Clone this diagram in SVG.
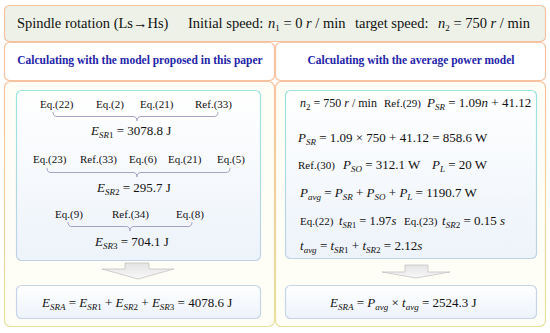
<svg xmlns="http://www.w3.org/2000/svg" width="550" height="333" viewBox="0 0 550 333" font-family="Liberation Serif, DejaVu Serif, serif">
<style>
.t{font-family:'Liberation Serif','DejaVu Serif',serif;fill:#111}
.ti{font-size:14.5px}
.eq{font-size:13px}
.lb{font-size:11px}
.i{font-style:italic}
.s{font-size:9px}
.hd{font-family:'Liberation Serif','DejaVu Serif',serif;font-weight:bold;font-size:11.5px;fill:#2424a8;text-anchor:middle}
.brace{fill:none;stroke:#aaa2c4;stroke-width:1}
.arrow{fill:url(#ga);stroke:#c4c4c4;stroke-width:0.8}
</style>
<defs>
<linearGradient id="gp" x1="0" y1="0" x2="0" y2="1">
<stop offset="0" stop-color="#f8c2a0"/>
<stop offset="1" stop-color="#e6e29c"/>
</linearGradient>
<linearGradient id="gi" x1="0" y1="0" x2="0" y2="1">
<stop offset="0" stop-color="#98e4dc"/>
<stop offset="1" stop-color="#c2d2e6"/>
</linearGradient>
<linearGradient id="gf" x1="0" y1="0" x2="0" y2="1">
<stop offset="0" stop-color="#ffffff"/>
<stop offset="1" stop-color="#edf3fa"/>
</linearGradient>
<linearGradient id="ga" x1="0" y1="0" x2="0" y2="1">
<stop offset="0" stop-color="#e4e4e4"/>
<stop offset="1" stop-color="#f8f8f8"/>
</linearGradient>
</defs>
<rect width="550" height="333" fill="#ffffff"/>

<g id="title">
<rect x="4.5" y="5.5" width="541" height="36" rx="5" fill="#eef1e7" stroke="#f6c3a2" stroke-width="1.2"/>
<text class="t ti" x="17" y="28">Spindle rotation (Ls→Hs)</text>
<text class="t ti" x="188" y="28">Initial speed:<tspan x="268" class="i">n</tspan><tspan class="s" dy="3">1</tspan><tspan dy="-3"> = 0 </tspan><tspan class="i">r</tspan><tspan> / min</tspan></text>
<text class="t ti" x="355" y="28">target speed:<tspan x="438" class="i">n</tspan><tspan class="s" dy="3">2</tspan><tspan dy="-3"> = 750 </tspan><tspan class="i">r</tspan><tspan> / min</tspan></text>
</g>

<g id="header-left">
<rect x="4.5" y="42.5" width="270" height="38" rx="5" fill="#ffffff" stroke="#f6c3a2" stroke-width="1.2"/>
<text class="hd" x="140" y="64">Calculating with the model proposed in this paper</text>
</g>
<g id="header-right">
<rect x="275.5" y="42.5" width="270" height="38" rx="5" fill="#ffffff" stroke="#f6c3a2" stroke-width="1.2"/>
<text class="hd" x="411" y="64">Calculating with the average power model</text>
</g>

<g id="panel-left">
<rect x="4.5" y="81.5" width="270" height="245" rx="6" fill="#fffef6" stroke="url(#gp)" stroke-width="1.2"/>
</g>
<g id="panel-right">
<rect x="275.5" y="81.5" width="270" height="245" rx="6" fill="#fffef6" stroke="url(#gp)" stroke-width="1.2"/>
</g>

<g id="model-steps">
<rect x="16.5" y="90.5" width="244" height="170" rx="5" fill="url(#gf)" stroke="url(#gi)" stroke-width="1.2"/>
<text class="t lb" y="108"><tspan x="40">Eq.(22)</tspan><tspan x="96">Eq.(2)</tspan><tspan x="140">Eq.(21)</tspan><tspan x="195">Ref.(33)</tspan></text>
<text class="t eq" x="91" y="135"><tspan class="i">E</tspan><tspan class="s i" dy="3">SR</tspan><tspan class="s">1</tspan><tspan dy="-3"> = 3078.8 J</tspan></text>
<text class="t lb" y="163"><tspan x="33">Eq.(23)</tspan><tspan x="80">Ref.(33)</tspan><tspan x="129">Eq.(6)</tspan><tspan x="168">Eq.(21)</tspan><tspan x="217">Eq.(5)</tspan></text>
<text class="t eq" x="97" y="192"><tspan class="i">E</tspan><tspan class="s i" dy="3">SR</tspan><tspan class="s">2</tspan><tspan dy="-3"> = 295.7 J</tspan></text>
<text class="t lb" y="218"><tspan x="55">Eq.(9)</tspan><tspan x="112">Ref.(34)</tspan><tspan x="176">Eq.(8)</tspan></text>
<text class="t eq" x="95" y="246"><tspan class="i">E</tspan><tspan class="s i" dy="3">SR</tspan><tspan class="s">3</tspan><tspan dy="-3"> = 704.1 J</tspan></text>
</g>

<g id="model-result">
<rect x="16.5" y="285.5" width="244" height="33" rx="5" fill="url(#gf)" stroke="#c6d4e8" stroke-width="1.2"/>
<text class="t eq" x="42" y="307"><tspan class="i">E</tspan><tspan class="s i" dy="3">SRA</tspan><tspan dy="-3"> = </tspan><tspan class="i">E</tspan><tspan class="s i" dy="3">SR</tspan><tspan class="s">1</tspan><tspan dy="-3"> + </tspan><tspan class="i">E</tspan><tspan class="s i" dy="3">SR</tspan><tspan class="s">2</tspan><tspan dy="-3"> + </tspan><tspan class="i">E</tspan><tspan class="s i" dy="3">SR</tspan><tspan class="s">3</tspan><tspan dy="-3"> = 4078.6 J</tspan></text>
</g>

<g id="avg-steps">
<rect x="285.5" y="90.5" width="251" height="168" rx="5" fill="url(#gf)" stroke="url(#gi)" stroke-width="1.2"/>
<text class="t" font-size="12" x="300" y="107"><tspan class="i">n</tspan><tspan class="s" dy="3">2</tspan><tspan dy="-3"> = 750 </tspan><tspan class="i">r</tspan><tspan> / min</tspan></text>
<text class="t lb" x="384" y="107">Ref.(29)</text>
<text class="t eq" x="427" y="107"><tspan class="i">P</tspan><tspan class="s i" dy="3">SR</tspan><tspan dy="-3"> = 1.09</tspan><tspan class="i">n</tspan><tspan> + 41.12</tspan></text>
<text class="t eq" x="298" y="142"><tspan class="i">P</tspan><tspan class="s i" dy="3">SR</tspan><tspan dy="-3"> = 1.09 × 750 + 41.12 = 858.6  W</tspan></text>
<text class="t lb" x="298" y="169">Ref.(30)</text>
<text class="t eq" x="343" y="169"><tspan class="i">P</tspan><tspan class="s i" dy="3">SO</tspan><tspan dy="-3"> = 312.1 W</tspan></text>
<text class="t eq" x="432" y="169"><tspan class="i">P</tspan><tspan class="s i" dy="3">L</tspan><tspan dy="-3"> = 20  W</tspan></text>
<text class="t eq" x="300" y="197"><tspan class="i">P</tspan><tspan class="s i" dy="3">avg</tspan><tspan dy="-3"> = </tspan><tspan class="i">P</tspan><tspan class="s i" dy="3">SR</tspan><tspan dy="-3"> + </tspan><tspan class="i">P</tspan><tspan class="s i" dy="3">SO</tspan><tspan dy="-3"> + </tspan><tspan class="i">P</tspan><tspan class="s i" dy="3">L</tspan><tspan dy="-3"> = 1190.7 W</tspan></text>
<text class="t lb" x="300" y="225">Eq.(22)</text>
<text class="t" font-size="12.5" x="339" y="225"><tspan class="i">t</tspan><tspan class="i" font-size="8.5" dy="3">SR</tspan><tspan font-size="8.5">1</tspan><tspan dy="-3"> = 1.97</tspan><tspan class="i">s</tspan></text>
<text class="t lb" x="404" y="225">Eq.(23)</text>
<text class="t eq" x="442" y="225"><tspan class="i">t</tspan><tspan class="s i" dy="3">SR</tspan><tspan class="s">2</tspan><tspan dy="-3"> = 0.15 </tspan><tspan class="i">s</tspan></text>
<text class="t eq" x="300" y="250"><tspan class="i">t</tspan><tspan class="s i" dy="3">avg</tspan><tspan dy="-3"> = </tspan><tspan class="i">t</tspan><tspan class="s i" dy="3">SR</tspan><tspan class="s">1</tspan><tspan dy="-3"> + </tspan><tspan class="i">t</tspan><tspan class="s i" dy="3">SR</tspan><tspan class="s">2</tspan><tspan dy="-3"> = 2.12</tspan><tspan class="i">s</tspan></text>
</g>

<g id="avg-result">
<rect x="285.5" y="285.5" width="251" height="33" rx="5" fill="url(#gf)" stroke="#c6d4e8" stroke-width="1.2"/>
<text class="t eq" x="330" y="307"><tspan class="i">E</tspan><tspan class="s i" dy="3">SRA</tspan><tspan dy="-3"> = </tspan><tspan class="i">P</tspan><tspan class="s i" dy="3">avg</tspan><tspan dy="-3"> × </tspan><tspan class="i">t</tspan><tspan class="s i" dy="3">avg</tspan><tspan dy="-3"> = 2524.3 J</tspan></text>
</g>

<g id="connectors">
<path class="brace" d="M53,112 Q53,116.5 57,116.5 L133,116.5 Q137,116.5 137,121 Q137,116.5 141,116.5 L214,116.5 Q218,116.5 218,112"/>
<path class="brace" d="M47,168 Q47,172.5 51,172.5 L133,172.5 Q137,172.5 137,177 Q137,172.5 141,172.5 L226,172.5 Q230,172.5 230,168"/>
<path class="brace" d="M68,222 Q68,226.5 72,226.5 L126,226.5 Q130,226.5 130,231 Q130,226.5 134,226.5 L188,226.5 Q192,226.5 192,222"/>
<path class="arrow" d="M125,263 L149,263 L149,269 L174,269 L138,279 L102,269 L125,269 Z"/>
<path class="arrow" d="M405,265 L428,265 L428,272 L450,272 L416,278 L382,272 L405,272 Z"/>
</g>
</svg>
